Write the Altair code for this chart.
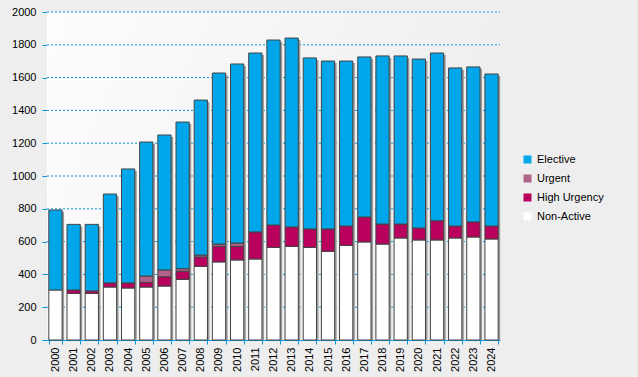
import altair as alt
import pandas as pd

years = [str(y) for y in range(2000, 2025)]
non_active = [305, 284, 284, 323, 317, 323, 329, 370, 449, 476, 488, 494, 565, 571, 565, 541, 577, 598, 585, 622, 610, 610, 622, 628, 616]
high_urgency = [0, 21, 15, 25, 31, 28, 57, 49, 57, 95, 83, 165, 136, 118, 112, 136, 118, 152, 122, 85, 73, 117, 73, 92, 79]
urgent = [0, 0, 0, 0, 0, 39, 41, 16, 12, 14, 20, 0, 0, 0, 0, 0, 0, 0, 0, 0, 0, 0, 0, 0, 0]
elective = [488, 400, 406, 542, 695, 817, 823, 894, 945, 1043, 1092, 1091, 1128, 1152, 1043, 1024, 1006, 976, 1025, 1025, 1030, 1023, 964, 945, 927]
grid_values = list(range(200, 2001, 200))

categories = ["Elective", "Urgent", "High Urgency", "Non-Active"]
colors = ["#00a6ea", "#b0628a", "#b8005c", "#ffffff"]
stack_order = {"Non-Active": 0, "High Urgency": 1, "Urgent": 2, "Elective": 3}
series = {"Non-Active": non_active, "High Urgency": high_urgency, "Urgent": urgent, "Elective": elective}

rows = []
for cat, vals in series.items():
    for y, v in zip(years, vals):
        if v > 0:
            rows.append({"year": y, "category": cat, "value": v, "ord": stack_order[cat]})
df = pd.DataFrame(rows)
grid_df = pd.DataFrame({"v": grid_values})

W, H = 453, 328
grid_col = "#0a96dc"
yscale = alt.Scale(domain=[0, 2000], nice=False)

bg = alt.Chart(alt.Data(values=[{}])).mark_rect(
    color=alt.Gradient(gradient="linear",
                       stops=[alt.GradientStop(color="#fdfdfd", offset=0),
                              alt.GradientStop(color="#eeeeee", offset=1)],
                       x1=0, x2=1, y1=0, y2=0.3)
).encode(x=alt.value(0), x2=alt.value("width"), y=alt.value(0), y2=alt.value("height"))

xenc = alt.X("year:N", sort=years,
             scale=alt.Scale(paddingInner=0.27, paddingOuter=0.1),
             axis=alt.Axis(title=None, labelAngle=-90, tickBand="extent", tickSize=4,
                           labelPadding=3, domainColor=grid_col, tickColor=grid_col,
                           labelColor="#000000", labelFontSize=11, labelFont="Liberation Sans"))

yaxis = alt.Axis(title=None, values=list(range(0, 2001, 200)), grid=False, format="d",
                 domainColor=grid_col, tickColor=grid_col,
                 tickSize=5, labelPadding=6, labelColor="#000000", labelFontSize=11,
                 labelFont="Liberation Sans")

grid = alt.Chart(grid_df).mark_rule(color=grid_col, strokeDash=[2, 2], strokeWidth=1).encode(
    y=alt.Y("v:Q", scale=yscale, axis=yaxis),
    x=alt.value(0), x2=alt.value("width"),
)

shadow = alt.Chart(df).mark_bar(color="#9a9a9a", xOffset=2, x2Offset=2, yOffset=2, y2Offset=0).encode(
    x=xenc,
    y=alt.Y("sum(value):Q", scale=yscale, axis=yaxis),
)

bars = alt.Chart(df).mark_bar(stroke="#444444", strokeWidth=1).encode(
    x=xenc,
    y=alt.Y("value:Q", stack="zero", scale=yscale, axis=yaxis),
    color=alt.Color("category:N", scale=alt.Scale(domain=categories, range=colors),
                    legend=alt.Legend(title=None, orient="none", legendX=475, legendY=142,
                                      symbolType="square", symbolSize=64, symbolStrokeWidth=0,
                                      labelFontSize=11, labelFont="Liberation Sans",
                                      labelColor="#000000", rowPadding=7, labelOffset=4)),
    order=alt.Order("ord:Q", sort="ascending"),
)

chart = alt.layer(bg, grid, shadow, bars).properties(
    width=W, height=H,
    autosize=alt.AutoSizeParams(type="none"),
    padding={"left": 47, "top": 12, "right": 138, "bottom": 37},
    background="#eeeeee",
).configure_view(stroke=None)

chart.save("out.html", embed_options={"renderer": "svg", "actions": False})
